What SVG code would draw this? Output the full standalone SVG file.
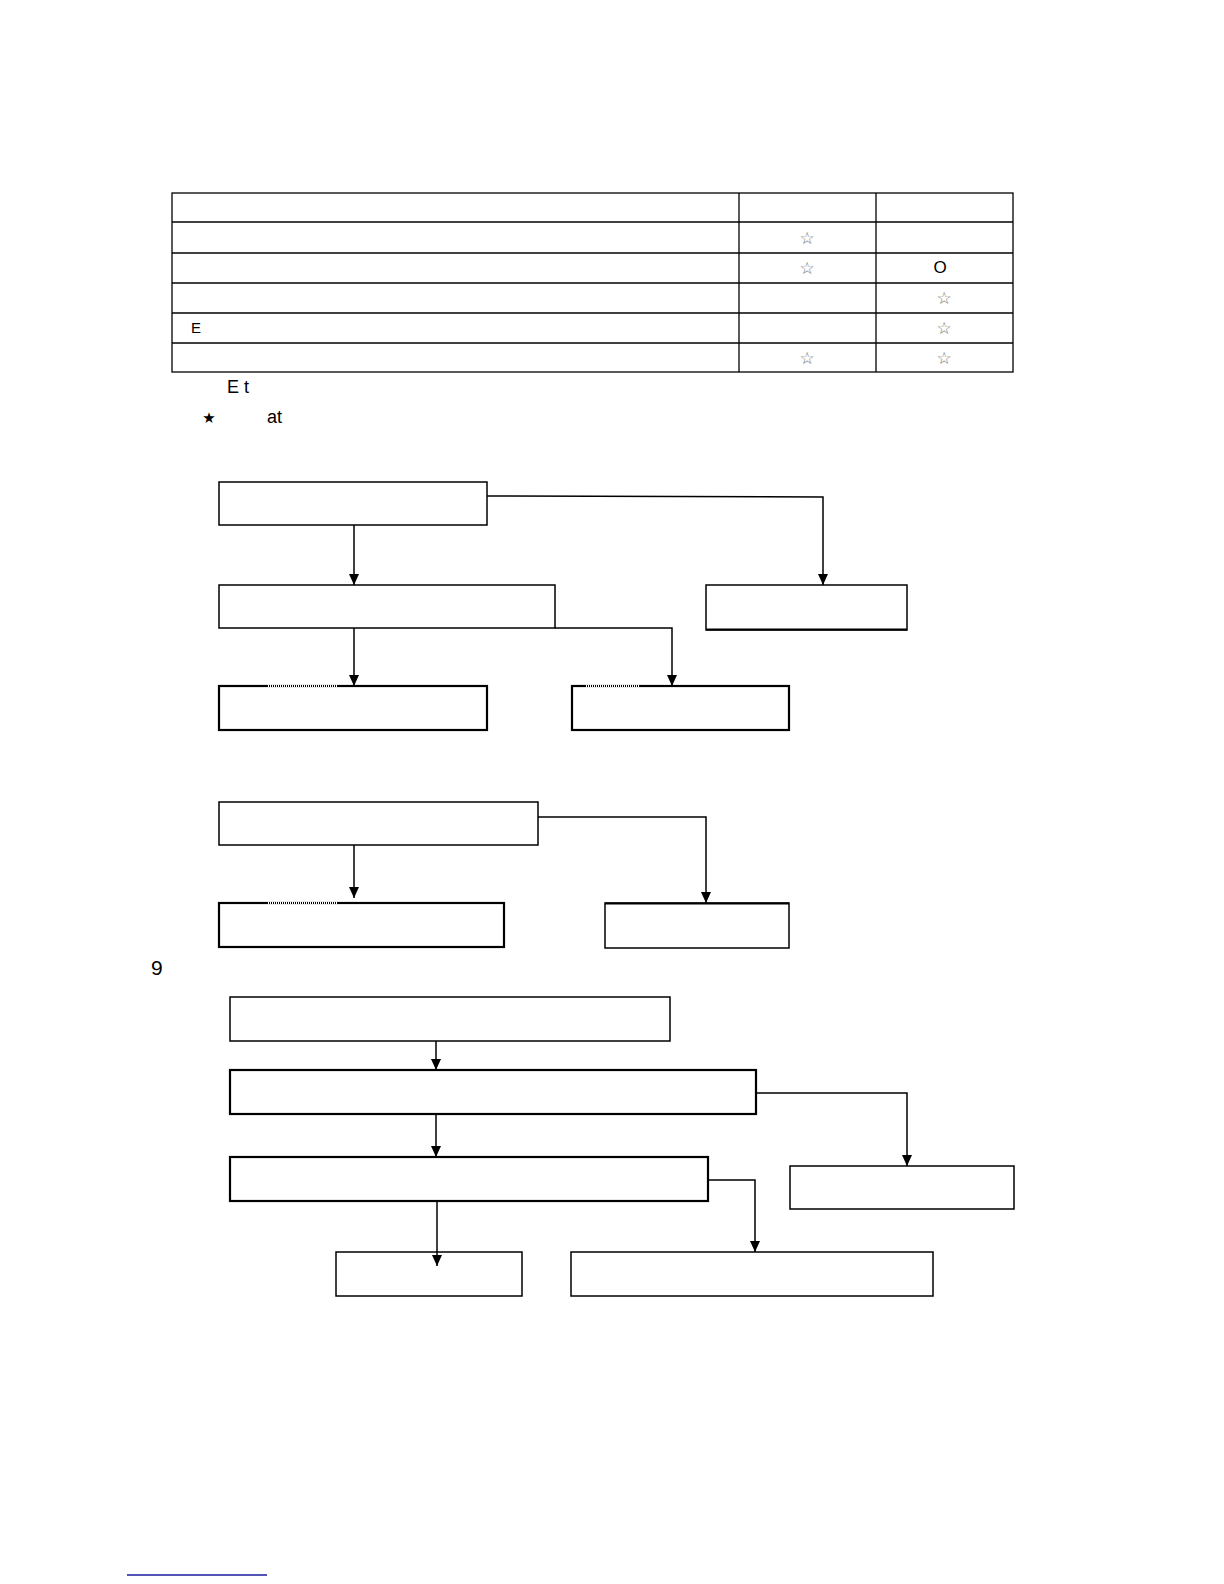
<svg xmlns="http://www.w3.org/2000/svg" width="1224" height="1584" viewBox="0 0 1224 1584">
<defs>
<style>
.box{fill:#fff;stroke:#000;stroke-width:1.5}
.thick{fill:#fff;stroke:#000;stroke-width:2.2}
.ln{fill:none;stroke:#000;stroke-width:1.5}
.cell{fill:none;stroke:#000;stroke-width:1.3}
.t{font-family:"Liberation Sans",Arial,sans-serif;fill:#000}
.star{font-family:"DejaVu Sans",sans-serif;font-size:17px;fill:#777;text-anchor:middle}
.dot{stroke:#fff;stroke-width:2.5;stroke-dasharray:1 1}
</style>
<marker id="a" markerWidth="12" markerHeight="12" refX="11" refY="6" orient="auto" markerUnits="userSpaceOnUse" viewBox="0 0 12 12">
<path d="M0,1 L11,6 L0,11 Z" fill="#000"/>
</marker>
</defs>
<rect width="1224" height="1584" fill="#fff"/>

<g id="table">
<rect x="172" y="193" width="841" height="179" class="cell"/>
<line x1="172" y1="222" x2="1013" y2="222" class="cell"/>
<line x1="172" y1="253" x2="1013" y2="253" class="cell"/>
<line x1="172" y1="283" x2="1013" y2="283" class="cell"/>
<line x1="172" y1="313" x2="1013" y2="313" class="cell"/>
<line x1="172" y1="343" x2="1013" y2="343" class="cell"/>
<line x1="739" y1="193" x2="739" y2="372" class="cell"/>
<line x1="876" y1="193" x2="876" y2="372" class="cell"/>
<text x="807" y="244" class="star">☆</text>
<text x="807" y="274" class="star">☆</text>
<text x="944" y="304" class="star">☆</text>
<text x="944" y="334" class="star">☆</text>
<text x="807" y="364" class="star">☆</text>
<text x="944" y="364" class="star">☆</text>
<text x="940" y="273" class="t" style="font-size:17px" text-anchor="middle">O</text>
<text x="191" y="333" class="t" style="font-size:15px">E</text>
</g>

<g id="notes">
<text x="227" y="393" class="t" style="font-size:18px">E  t</text>
<text x="209" y="423" class="t" style="font-size:15px;font-family:'DejaVu Sans',sans-serif" text-anchor="middle">★</text>
<text x="267" y="423" class="t" style="font-size:18px">at</text>
<text x="151" y="975" class="t" style="font-size:21px">9</text>
</g>

<g id="connectors">
<line x1="354" y1="525" x2="354" y2="585" class="ln" marker-end="url(#a)"/>
<polyline points="487,496 823,497 823,585" class="ln" marker-end="url(#a)"/>
<line x1="354" y1="628" x2="354" y2="686" class="ln" marker-end="url(#a)"/>
<polyline points="555,628 672,628 672,686" class="ln" marker-end="url(#a)"/>
<line x1="354" y1="845" x2="354" y2="898" class="ln" marker-end="url(#a)"/>
<polyline points="538,817 706,817 706,903" class="ln" marker-end="url(#a)"/>
<line x1="436" y1="1041" x2="436" y2="1070" class="ln" marker-end="url(#a)"/>
<line x1="436" y1="1114" x2="436" y2="1157" class="ln" marker-end="url(#a)"/>
<polyline points="756,1093 907,1093 907,1166" class="ln" marker-end="url(#a)"/>
<polyline points="708,1180 755,1180 755,1252" class="ln" marker-end="url(#a)"/>
</g>

<g id="nodeA"><rect x="219" y="482" width="268" height="43" class="box"/></g>
<g id="nodeB"><rect x="219" y="585" width="336" height="43" class="box"/></g>
<g id="nodeC"><rect x="706" y="585" width="201" height="45" class="box"/><line x1="706" y1="629.5" x2="907" y2="629.5" stroke="#000" stroke-width="2"/></g>
<g id="nodeD"><rect x="219" y="686" width="268" height="44" class="thick"/><line x1="268" y1="686" x2="338" y2="686" class="dot"/></g>
<g id="nodeE"><rect x="572" y="686" width="217" height="44" class="thick"/><line x1="586" y1="686" x2="640" y2="686" class="dot"/></g>
<g id="nodeF"><rect x="219" y="802" width="319" height="43" class="box"/></g>
<g id="nodeG"><rect x="219" y="903" width="285" height="44" class="thick"/><line x1="268" y1="903" x2="338" y2="903" class="dot"/></g>
<g id="nodeH"><rect x="605" y="903" width="184" height="45" class="box"/><line x1="605" y1="903.5" x2="789" y2="903.5" stroke="#000" stroke-width="2"/></g>
<g id="nodeI"><rect x="230" y="997" width="440" height="44" class="box"/></g>
<g id="nodeJ"><rect x="230" y="1070" width="526" height="44" class="thick"/></g>
<g id="nodeK"><rect x="230" y="1157" width="478" height="44" class="thick"/></g>
<g id="nodeL"><rect x="790" y="1166" width="224" height="43" class="box"/></g>
<g id="nodeM"><rect x="336" y="1252" width="186" height="44" class="box"/></g>
<g id="nodeN"><rect x="571" y="1252" width="362" height="44" class="box"/></g>
<line x1="437" y1="1201" x2="437" y2="1266" class="ln" marker-end="url(#a)"/>

<line x1="127" y1="1575" x2="267" y2="1575" stroke="#1a1aa0" stroke-width="1.5"/>
</svg>
